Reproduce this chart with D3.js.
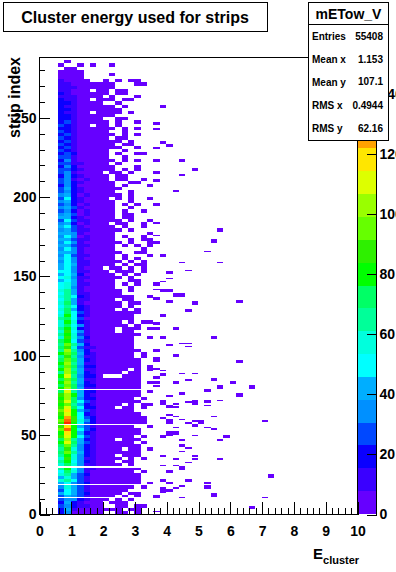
<!DOCTYPE html>
<html><head><meta charset="utf-8">
<script src="https://cdn.jsdelivr.net/npm/d3@7"></script>
<style>html,body{margin:0;padding:0;background:#fff;overflow:hidden}svg{display:block}text{font-family:"Liberation Sans",Arial,sans-serif;font-weight:bold;fill:#000}</style>
</head><body><svg id="c" width="396" height="572"></svg>
<script>
const titleText = "Cluster energy used for strips";
const statsName = "mETow_V";
const statsLabels = ["Entries","Mean x","Mean y","RMS x","RMS y"];
const statsValues = ["55408","1.153","107.1","0.4944","62.16"];
const xTicks = [0,1,2,3,4,5,6,7,8,9,10];
const yTicks = [0,50,100,150,200,250];
const zTicks = [0,20,40,60,80,100,120,140];
const palette = ["#6600ff","#3a00ff","#0a00ff","#0048ff","#0090ff","#00aeff","#00ffff","#00ffdd","#00ff99","#00ff66","#00ff00","#2ef000","#66ff00","#99ff00","#ddff00","#ffe600","#ffa200","#ff6600","#ff2a00","#ff0000"];
const zMax = 152, rowBlock = 2, firstCol = 3;
// Level codes (base 20) for E bins 3-9 and 10-17, two strip bins per line, from strip 286 down to strip 0
const levelRows = [
"....... ........",".0..... ........","0..0.0. .0......",".00.... ........","0000... ........","0000... .0......","0000... ........","10000.. 0.0.00..",
"1100000 00...00.","1110000 00......","11000.0 0.00....","2100000 0.00....","1110000 .0...0..","21100.0 00.00...","2210000 ..0.....","2110000 00.0....",
"2210000 000.....","21100.0 000.0...","2210000 00......","2210000 ..00....","2310000 0.0..0..","32100.0 0.0.....","2210000 00.0.0..","3210000 0..0....",
"2310000 00.0.0..","3210000 0.00....","2310000 000.0...","3210000 00.00...","2310000 000..0..","3210000 0..0....","2320000 0.0..00.","3310000 0..0....",
"2410000 00.0.0..","3311000 0.0.....","2420000 00...0..","3321000 00.0.0..","3410000 .00.0...","2421000 0.00....","3410100 0.00..0.","3421000 00..00..",
"2420000 00.0...0","3521000 000.....","3421000 00..0...","4520100 000.0...","3621000 0.0.0..0","4521000 00..0...","3420100 00.0.0..","4531000 00..0...",
"3420100 00.0..0.","4530100 00.00...","5521000 00.00...","3631100 000.0..0","4520100 0.00..0.","5631000 00.0..0.","4531100 000.0...","5541000 00.....0",
"4640100 00.0..0.","5531100 00..0.00","4641000 000.0..0","5531100 00.0.0.0","4641000 00....0.","5541000 000..00.","4631100 00.0...0","5641000 00.0.0..",
"4641100 000.0.0.","5651100 00.0.00.","5641000 .00.0.0.","6641100 0.000.0.","5652000 00.0.0..","6741100 000.0...","5651000 00..00..","6751100 00.0.0..",
"6741000 00..0...","7851000 000.0...","6851100 000.....","7862100 00000..0","6851100 00.00...","7951000 000.00..","6862100 000.0...","7952100 00.0.0..",
"6963100 000000..","7a62100 00000...","8963000 00000...","7a72100 000.0.00","7964100 0000.0..","8a72100 00.000.0","7b64100 00.00...","8a73100 000000..",
"7b74200 00000..0","9a63100 00000...","8c85200 00000...","9b73110 00000...","8d84200 000000..","ac95210 00000.0.","8b84110 00000.0.","9c95210 000000..",
"ad85110 000000..","9c94220 000000.0","ad85110 0000.0.0","8d95210 000.00..","ae84220 ...000..","9c95110 000000..","ad85210 000000.0","9c94220 000000..",
"ad95110 000000..","9e85220 000000.0","bda5210 000000..","ad94220 00000.0.","be96310 000000..","ac85210 000.0.00","be96220 00.00.0.","cfa5310 00000...",
"bea6210 000000..","agb6320 0000000.","chb7420 0000000.","bia6320 0000000.","bfa5310 00000..0","cha6320 000000..","afa5210 000000..","bea6310 00000.0.",
"9d85210 00.000..","ae95310 00000.0.","9c84210 000000..","8b74210 000.00.0","9c85210 000000..","8a74210 00.000..","7b74110 000.0.0.","8a64210 00.00...",
"7974110 000.0...","8a64110 000000..","6974100 00000.0.","7853200 000000..","5753100 000000..","7863100 000000..","5643200 000000.0","4753100 00000.0.",
"3653100 0000....","5653200 000.00..","3543100 00.0.0..","3442100 0.0.0...","2521000 .000....","3421100 ..00.00.","2510000 000.00..","2400000 ..00.0.."
].map(s => s.replace(" ",""));
// Strip bins that are empty across the main body
const emptyStrips = [10,18,29,56,78];
// Isolated low-count cells right of the body: [E bin, strip bin, bins high]
const tailCells = [
[19,256,2],[18,245,2],[18,242,1],[19,233,2],[20,231,2],[18,230,1],[18,222,2],[22,222,2],[24,216,2],[18,214,2],[22,213,1],[18,209,2],[21,203,1],
[18,194,2],[18,183,1],[28,178,2],[18,175,1],[27,171,2],[18,170,2],[26,165,1],[19,162,2],[22,158,1],[28,158,1],[23,153,1],[20,151,2],[20,148,1],[19,146,1],[18,144,2],[18,141,1],[19,140,2],[20,140,2],[21,137,2],[22,137,2],[18,135,2],[20,133,2],[31,133,2],[24,132,2],[23,127,2],[19,124,2],[18,119,2],[21,116,2],[18,116,2],[19,110,2],[27,110,2],[20,106,1],[22,107,1],[23,105,1],[23,107,1],[18,102,2],[21,99,2],
[31,95,2],[18,96,3],[18,91,1],[19,90,1],[19,87,2],[22,88,1],[24,88,1],[18,86,1],[18,85,1],[27,84,2],[23,84,1],[18,82,2],[21,82,2],[30,82,2],[18,80,1],[28,79,2],[33,79,2],[26,77,2],[22,75,2],[20,74,1],[31,74,2],[28,71,1],[24,71,1],[26,70,2],[23,70,1],[24,69,2],[19,69,3],[21,69,1],[26,68,1],[20,67,2],[21,67,1],
[27,61,1],[19,60,1],[21,61,1],[20,62,1],[20,57,3],[22,59,1],[23,57,1],[24,58,1],[24,55,2],[25,57,2],[26,54,1],[21,54,1],[27,53,1],[35,58,1],[20,49,3],[21,50,2],[19,48,2],[24,49,1],[29,48,2],[22,46,1],[28,46,1],[22,42,2],[23,41,1],[22,39,1],[19,36,1],[24,36,1],[21,34,1],[24,34,1],[28,34,1],[23,32,1],[19,30,1],[21,30,1],[22,28,2],[20,26,2],[36,23,2],[23,20,2],[19,20,2],[26,19,1],[20,19,1],[21,16,1],[22,17,1],[19,15,2],[26,16,2],[20,14,2],[19,13,2],[27,11,2],[18,10,2],[22,10,1],[35,10,1],[33,3,2],[18,1,1]
];

const svg = d3.select("#c");
const x = d3.scaleLinear().domain([0,10]).range([39,357]);
const y = d3.scaleLinear().domain([0,288]).range([514,57]);
const zAxisScale = d3.scaleLinear().domain([0,zMax]).range([514,57]);
const binW = 0.2;
const zStep = zMax / palette.length;
const color = d3.scaleQuantize().domain([0,zMax]).range(palette);

const cells = [];
levelRows.forEach((s,i) => {
  const base = (levelRows.length-1-i)*rowBlock;
  for (let k=0;k<rowBlock;k++) {
    const r = base+k;
    if (emptyStrips.includes(r)) continue;
    [...s].forEach((ch,j) => { if (ch!==".") cells.push({c:firstCol+j,r,h:1,z:(parseInt(ch,20)+.5)*zStep}); });
  }
});
tailCells.forEach(([c,r,h]) => cells.push({c,r,h,z:zStep*.5}));
svg.append("g").attr("shape-rendering","crispEdges").selectAll("rect").data(cells).join("rect")
  .attr("x",d=>x(d.c*binW)).attr("width",d=>x((d.c+1)*binW)-x(d.c*binW))
  .attr("y",d=>y(d.r+d.h)).attr("height",d=>y(d.r)-y(d.r+d.h)).attr("fill",d=>color(d.z));

svg.append("g").attr("shape-rendering","crispEdges").selectAll("rect").data(palette).join("rect")
  .attr("x",357).attr("width",19).attr("y",(d,i)=>zAxisScale((i+1)*zStep)).attr("height",(d,i)=>zAxisScale(i*zStep)-zAxisScale((i+1)*zStep)).attr("fill",d=>d);

const frame = svg.append("g").attr("shape-rendering","crispEdges");
frame.append("rect").attr("x",39.5).attr("y",57.5).attr("width",318).attr("height",457).attr("fill","none").attr("stroke","#000");
frame.append("line").attr("x1",376.5).attr("x2",376.5).attr("y1",57).attr("y2",514.5).attr("stroke","#000");

function styleAxis(g){ g.select(".domain").remove(); g.selectAll("text").attr("font-size",14).attr("fill","#000").style("font-weight","bold"); g.selectAll("line").attr("stroke","#000").attr("shape-rendering","crispEdges"); }
const xMinor = d3.range(0,51).map(d=>d/5).filter(v=>!xTicks.includes(v));
const yMinor = d3.range(0,29).map(d=>d*10).filter(v=>!yTicks.includes(v));

const gx = svg.append("g").attr("transform","translate(0.5,514.5)").call(d3.axisBottom(x).tickValues(xTicks).tickSize(-13).tickPadding(10).tickFormat(d3.format("d"))).call(styleAxis);
gx.selectAll("text").attr("y",21).attr("dy",0);
svg.append("g").attr("transform","translate(0.5,514.5)").call(d3.axisBottom(x).tickValues(xMinor).tickSize(-7).tickFormat("")).call(styleAxis);
svg.append("g").attr("transform","translate(39.5,0.5)").call(d3.axisLeft(y).tickValues(yTicks).tickSize(-10).tickPadding(3).tickFormat(d3.format("d"))).call(styleAxis);
svg.append("g").attr("transform","translate(39.5,0.5)").call(d3.axisLeft(y).tickValues(yMinor).tickSize(-5).tickFormat("")).call(styleAxis);
svg.append("g").attr("transform","translate(376.5,0.5)").call(d3.axisRight(zAxisScale).tickValues(zTicks).tickSize(-10).tickPadding(3).tickFormat(d3.format("d"))).call(styleAxis);

svg.append("text").attr("transform","translate(20,57) rotate(-90)").attr("text-anchor","end").attr("font-size",16).text("strip index");
const xt = svg.append("text").attr("x",313).attr("y",559).attr("font-size",15);
xt.append("tspan").text("E");
xt.append("tspan").attr("font-size",11).attr("dy",5).text("cluster");

svg.append("rect").attr("x",3.5).attr("y",2.5).attr("width",264).attr("height",29).attr("fill","#fff").attr("stroke","#000").attr("shape-rendering","crispEdges");
svg.append("text").attr("x",135).attr("y",22.5).attr("text-anchor","middle").attr("font-size",16).text(titleText);

svg.append("rect").attr("x",308.5).attr("y",2.5).attr("width",80).attr("height",137.5).attr("fill","#fff").attr("stroke","#000").attr("shape-rendering","crispEdges");
svg.append("line").attr("x1",308.5).attr("x2",388.5).attr("y1",24.5).attr("y2",24.5).attr("stroke","#000").attr("shape-rendering","crispEdges");
svg.append("text").attr("x",348.5).attr("y",18.5).attr("text-anchor","middle").attr("font-size",14).text(statsName);
const rowYs = d3.scalePoint().domain(statsLabels).range([40,132]);
svg.append("g").selectAll("text").data(statsLabels).join("text").attr("x",312).attr("y",d=>rowYs(d)).attr("font-size",10).text(d=>d);
svg.append("g").selectAll("text").data(statsValues).join("text").attr("x",383).attr("y",(d,i)=>rowYs(statsLabels[i])-(i==2?1:0)).attr("text-anchor","end").attr("font-size",10).text(d=>d);
</script></body></html>
